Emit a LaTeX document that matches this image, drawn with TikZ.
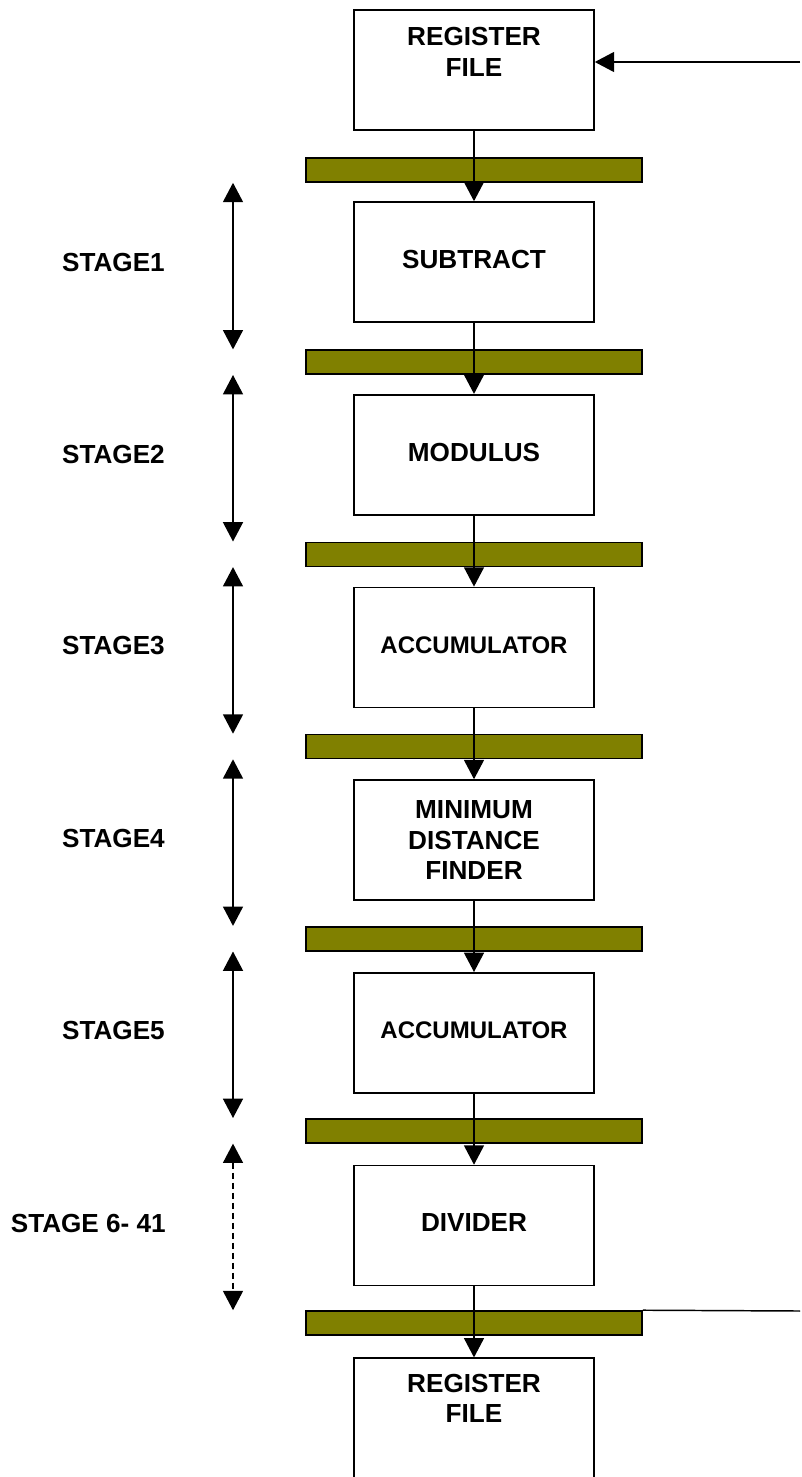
\documentclass[tikz,border=0pt]{standalone}
\usepackage{fontspec}
\setmainfont{Liberation Sans}
\usetikzlibrary{arrows.meta}
\definecolor{latchol}{HTML}{808000}
\newcommand{\bigtxt}{\fontsize{19.6pt}{22.8pt}\selectfont\bfseries}
\newcommand{\smalltxt}{\fontsize{18pt}{21.5pt}\selectfont\bfseries}
\begin{document}
\begin{tikzpicture}[x=0.75pt,y=-0.75pt,
  unitbox/.style={draw,line width=1.2pt,minimum width=180pt,minimum height=90pt,
    inner sep=0pt,align=center,font=\bigtxt},
  oneline/.style={text depth=4pt},
  boxtext/.style={inner sep=0pt,align=center,font=\bigtxt},
  latch/.style={draw,line width=1.2pt,fill=latchol,minimum width=252pt,
    minimum height=18pt,inner sep=0pt},
  stagelbl/.style={inner sep=0pt,anchor=east,font=\bigtxt},
  tip/.tip={Triangle[length=14.5pt,width=15pt]},
  flow/.style={line width=1.1pt,-tip},
  span/.style={line width=1.1pt,tip-tip},
  plain/.style={line width=1.1pt}]
\useasboundingbox (0,0) rectangle (801,1477);

% pipeline latches
\node[latch] (b1) at (474,170) {};
\node[latch] (b2) at (474,362.2) {};
\node[latch] (b3) at (474,554.3) {};
\node[latch] (b4) at (474,746.5) {};
\node[latch] (b5) at (474,938.7) {};
\node[latch] (b6) at (474,1130.8) {};
\node[latch] (b7) at (474,1323) {};

% functional units
\node[unitbox] (rf1) at (474,70) {};
\node[boxtext,anchor=north] (rf1t) at ([yshift=-13.7pt]rf1.north) {REGISTER\\FILE};
\node[unitbox,oneline] (sub) at (474,262) {SUBTRACT};
\node[unitbox,oneline] (mod) at (474,454.7) {MODULUS};
\node[unitbox,oneline,font=\smalltxt] (acc1) at (474,647.4) {ACCUMULATOR};
\node[unitbox] (mdf) at (474,840) {MINIMUM\\DISTANCE\\FINDER};
\node[unitbox,oneline,font=\smalltxt] (acc2) at (474,1032.8) {ACCUMULATOR};
\node[unitbox,oneline] (div) at (474,1225.5) {DIVIDER};
\node[unitbox] (rf2) at (474,1418.2) {};
\node[boxtext,anchor=north] (rf2t) at ([yshift=-12.3pt]rf2.north) {REGISTER\\FILE};

% data flow through the pipeline
\draw[flow] (rf1.south) -- (sub.north);
\draw[flow] (sub.south) -- (mod.north);
\draw[flow] (mod.south) -- (acc1.north);
\draw[flow] (acc1.south) -- (mdf.north);
\draw[flow] (mdf.south) -- (acc2.north);
\draw[flow] (acc2.south) -- (div.north);
\draw[flow] (div.south) -- (rf2.north);

% external input and result output
\coordinate (inR) at (800,62);
\draw[flow] (inR) -- (inR -| rf1.east);
\coordinate (outR) at (800,1311);
\draw[plain] (b7.north east) -- (outR);

% stage extents
\coordinate (sx) at (233,0);
\draw[span] (sx |- b1.south) -- (sx |- b2.north);
\draw[span] (sx |- b2.south) -- (sx |- b3.north);
\draw[span] (sx |- b3.south) -- (sx |- b4.north);
\draw[span] (sx |- b4.south) -- (sx |- b5.north);
\draw[span] (sx |- b5.south) -- (sx |- b6.north);
\draw[span,dash pattern=on 5pt off 2.5pt] (sx |- b6.south) -- (sx |- b7.north);

% stage labels
\node[stagelbl] (s1) at (165,262.5) {STAGE1};
\node[stagelbl] (s2) at (165,454) {STAGE2};
\node[stagelbl] (s3) at (165,646) {STAGE3};
\node[stagelbl] (s4) at (165,838) {STAGE4};
\node[stagelbl] (s5) at (165,1030) {STAGE5};
\node[stagelbl] (s6) at (166,1223) {STAGE 6- 41};
\end{tikzpicture}
\end{document}
